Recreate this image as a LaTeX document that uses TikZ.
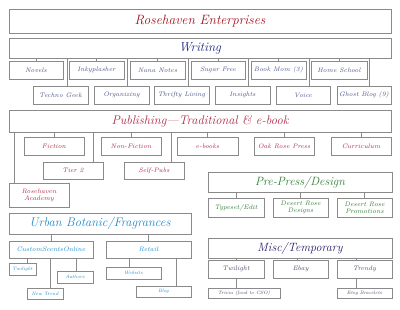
\documentclass[tikz,border=0pt]{standalone}
\usepackage{fontspec}
\usetikzlibrary{calc,shadows}
\definecolor{crosered}{HTML}{A3121E}
\definecolor{cnavy}{HTML}{1C2A80}
\definecolor{cslate}{HTML}{4A5488}
\definecolor{cpub}{HTML}{B02A48}
\definecolor{cgreen}{HTML}{2E7D32}
\definecolor{ccyan}{HTML}{1E8CCB}
\definecolor{cpurple}{HTML}{2A1A66}
\definecolor{cmisc}{HTML}{4C4C70}
\definecolor{cline}{HTML}{8A8A8A}
\tikzset{
  bx/.style={draw=cline, line width=0.6pt, fill=white, inner sep=1pt, align=center,
    font=\itshape, drop shadow={opacity=0.18, shadow xshift=0.8pt, shadow yshift=-0.8pt}},
  conn/.style={draw=cline, line width=0.6pt},
  kid/.style={bx, font=\itshape\fontsize{6.5}{7}\selectfont},
  tiny/.style={bx, font=\itshape\fontsize{4.8}{5.2}\selectfont},
}
\newcommand\dropto[4]{\draw[conn] ($(#1.north west)!#2!(#1.north east)$) coordinate (#4) -- (#4 |- #3.south);}
\newcommand\tick[2]{\draw[conn] (#2.north) -- (#2.north |- #1.south);}
\begin{document}
\begin{tikzpicture}[x=1pt,y=-1pt]
\useasboundingbox (0,0) rectangle (400,309);
\fill[white] (0,0) rectangle (400,309);
% top
\node[bx, minimum width=382pt, minimum height=24pt, text=crosered, font=\itshape\fontsize{13.5}{15}\selectfont] (rose) at (200,21) {Rosehaven Enterprises};
\node[bx, minimum width=382pt, minimum height=20pt, text=cnavy, font=\itshape\fontsize{13}{15}\selectfont] (writing) at (200,48) {Writing};
% writing row 1
\begin{scope}[every node/.style={kid, text=cslate, minimum height=18pt}]
\node[minimum width=54pt] (novels) at (36,70) {Novels};
\node[minimum width=55pt] (inky) at (96.5,70) {Inkyplasher};
\node[minimum width=55pt] (nana) at (157.5,70) {Nana Notes};
\node[minimum width=54pt] (sugar) at (218,70) {Sugar Free};
\node[minimum width=55pt] (bookmom) at (278.5,70) {Book Mom (3)};
\node[minimum width=56pt] (home) at (339,70) {Home School};
\node[minimum width=55pt] (techno) at (60.5,95) {Techno Geek};
\node[minimum width=55pt] (organizing) at (121.5,95) {Organizing};
\node[minimum width=55pt] (thrifty) at (181.5,95) {Thrifty Living};
\node[minimum width=55pt] (insights) at (242.5,95) {Insights};
\node[minimum width=54pt] (voice) at (303,95) {Voice};
\node[minimum width=54pt] (ghost) at (364,95) {Ghost Blog (9)};
\end{scope}
\foreach \n in {novels,inky,nana,sugar,bookmom,home} {\tick{writing}{\n}}
\dropto{techno}{0.62}{writing}{w1}
\dropto{organizing}{0.6}{writing}{w2}
\dropto{thrifty}{0.62}{writing}{w3}
\dropto{insights}{0.6}{writing}{w4}
\dropto{voice}{0.61}{writing}{w5}
\dropto{ghost}{0.59}{writing}{w6}
% publishing
\node[bx, minimum width=382pt, minimum height=22pt, text=cpub, font=\itshape\fontsize{12.5}{14}\selectfont] (pub) at (200,121) {Publishing—Traditional \& e-book};
\begin{scope}[every node/.style={kid, text=cpub, minimum height=18pt, minimum width=60pt}]
\node (fiction) at (54,146) {Fiction};
\node (nonfic) at (131,146) {Non-Fiction};
\node[minimum width=61pt] (ebooks) at (207.5,146) {e-books};
\node (oak) at (284,146) {Oak Rose Press};
\node (curric) at (361,146) {Curriculum};
\node[minimum height=17pt] (tier) at (73,170.5) {Tier 2};
\node[minimum height=17pt] (selfpubs) at (154,170.5) {Self-Pubs};
\node[minimum height=24pt] (academy) at (39,195) {Rosehaven\\Academy};
\end{scope}
\foreach \n in {fiction,nonfic,ebooks,oak,curric} {\tick{pub}{\n}}
\dropto{tier}{0.83}{pub}{p1}
\dropto{selfpubs}{0.78}{pub}{p2}
\dropto{academy}{0.1}{pub}{p3}
% pre-press
\node[bx, minimum width=184pt, minimum height=20pt, text=cgreen, font=\itshape\fontsize{12}{14}\selectfont] (prepress) at (300,182) {Pre-Press/Design};
\begin{scope}[every node/.style={kid, text=cgreen, minimum height=19pt}]
\node[minimum width=56pt] (typeset) at (236,207.5) {Typeset/Edit};
\node[minimum width=55pt] (drd) at (300.5,207.5) {Desert Rose\\Designs};
\node[minimum width=55pt] (drp) at (364.5,207.5) {Desert Rose\\Promotions};
\end{scope}
\foreach \n in {typeset,drd,drp} {\tick{prepress}{\n}}
% urban
\node[bx, minimum width=182pt, minimum height=21pt, text=ccyan, font=\itshape\fontsize{12.5}{14}\selectfont] (urban) at (100,223.5) {Urban Botanic/Fragrances};
\begin{scope}[every node/.style={kid, text=ccyan, minimum height=17pt}]
\node[minimum width=84pt] (cso) at (51,249.5) {CustomScentsOnline};
\node[minimum width=85pt] (retail) at (148.5,249.5) {Retail};
\end{scope}
\begin{scope}[every node/.style={tiny, text=ccyan, minimum height=12pt}]
\node[minimum width=27pt] (twis) at (22.5,269) {Twilight};
\node[minimum width=36pt] (authors) at (75,277) {Authors};
\node[minimum width=36pt, minimum height=11pt] (newtrend) at (45,293.5) {New Trend};
\node[minimum width=55pt] (website) at (133.5,273) {Website};
\node[minimum width=55pt, minimum height=11pt] (blog) at (163.5,291.5) {Blog};
\end{scope}
\foreach \n in {cso,retail} {\tick{urban}{\n}}
\dropto{twis}{0.67}{cso}{u1}
\dropto{authors}{0.53}{cso}{u2}
\dropto{newtrend}{0.64}{cso}{u3}
\dropto{website}{0.42}{retail}{u4}
\dropto{blog}{0.73}{retail}{u5}
% misc
\node[bx, minimum width=184pt, minimum height=20pt, text=cpurple, font=\itshape\fontsize{12}{14}\selectfont] (misc) at (300,248) {Misc/Temporary};
\begin{scope}[every node/.style={kid, text=cmisc, minimum height=18pt}]
\node[minimum width=56pt] (twim) at (236,269) {Twilight};
\node[minimum width=55pt] (ebay) at (300.5,269) {Ebay};
\node[minimum width=55pt] (trendy) at (364.5,269) {Trendy};
\end{scope}
\begin{scope}[every node/.style={tiny, text=cmisc, minimum height=10pt}]
\node[minimum width=72pt] (trivia) at (244,293) {Trivia (food to CSO)};
\node[minimum width=55pt] (etsy) at (364.5,293) {Etsy Bracelets};
\end{scope}
\dropto{twim}{0.5}{misc}{m1}
\dropto{ebay}{0.44}{misc}{m2}
\dropto{trendy}{0.36}{misc}{m3}
\dropto{trivia}{0.39}{twim}{m4}
\dropto{etsy}{0.36}{trendy}{m5}
\end{tikzpicture}
\end{document}
